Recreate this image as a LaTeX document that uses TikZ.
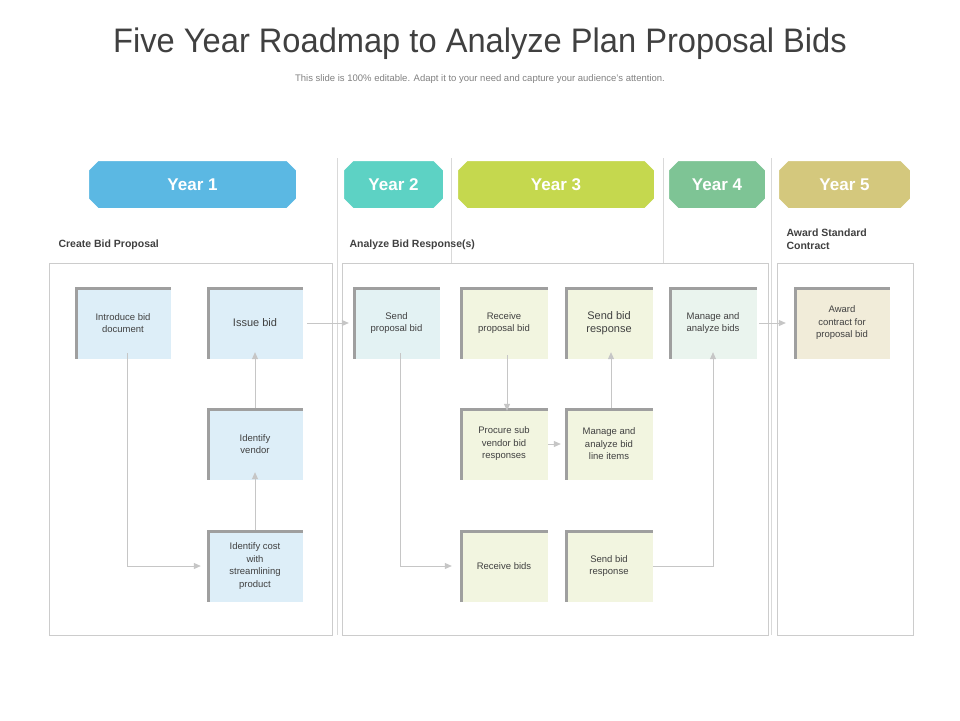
\documentclass[tikz,border=0pt]{standalone}
\usepackage{fontspec}
\setmainfont{Liberation Sans}
\usetikzlibrary{positioning,arrows.meta,shapes.misc}
\definecolor{yearone}{HTML}{5BB8E3}
\definecolor{yeartwo}{HTML}{5DD2C4}
\definecolor{yearthree}{HTML}{C5D84E}
\definecolor{yearfour}{HTML}{7EC495}
\definecolor{yearfive}{HTML}{D4C87D}
\definecolor{txt}{HTML}{404040}
\definecolor{fillblue}{HTML}{DDEEF8}
\definecolor{fillcyan}{HTML}{E3F2F3}
\definecolor{fillgreen}{HTML}{F2F5E0}
\definecolor{fillmint}{HTML}{EAF4EE}
\definecolor{fillsand}{HTML}{F1ECD9}
\tikzset{
  banner/.style={chamfered rectangle, chamfered rectangle xsep=5pt, chamfered rectangle ysep=5pt,
    draw=white, line width=2pt, text=white, font=\bfseries\fontsize{17}{17}\selectfont,
    minimum height=49pt, inner sep=0pt},
  panel/.style={draw=gray!40, line width=0.8pt, fill=white},
  task/.style={minimum width=92pt, minimum height=72pt, align=center,
    inner sep=0pt, text=txt, font=\fontsize{9.5}{12.5}\selectfont,
    path picture={\draw[gray!75, line width=5pt]
      (path picture bounding box.south west) -- (path picture bounding box.north west)
      -- (path picture bounding box.north east);}},
  flow/.style={gray!45, line width=0.8pt, -{Triangle[length=7pt,width=6pt]}},
  section/.style={anchor=south west, text=txt, font=\bfseries\fontsize{10.5}{13}\selectfont, align=left}
}
\begin{document}
\begin{tikzpicture}[x=1pt,y=-1pt]
\useasboundingbox (0,0) rectangle (960,720);
% title
\node[text=txt, font=\fontsize{34}{34}\selectfont, xscale=0.96] (title) at (480,44) {Five Year Roadmap to Analyze Plan Proposal Bids};
\node[text=gray, font=\fontsize{9.5}{11}\selectfont] (sub) at (480,79) {This slide is 100\% editable. Adapt it to your need and capture your audience’s attention.};
% column separators
\foreach \x in {337,451,663,771}
  \draw[gray!30, line width=0.6pt] (\x,158) -- (\x,635);
% panels
\draw[panel] (49,263) rectangle (332,635);
\draw[panel] (342,263) rectangle (768,635);
\draw[panel] (777,263) rectangle (913,635);
% banners
\node[banner, fill=yearone, minimum width=209pt] (y1) at (192.5,184.5) {Year 1};
\node[banner, fill=yeartwo, minimum width=101pt] (y2) at (393.5,184.5) {Year 2};
\node[banner, fill=yearthree, minimum width=198pt] (y3) at (556,184.5) {Year 3};
\node[banner, fill=yearfour, minimum width=98pt] (y4) at (717,184.5) {Year 4};
\node[banner, fill=yearfive, minimum width=133pt] (y5) at (844.5,184.5) {Year 5};
% section titles
\node[section] (s1) at (55,253) {Create Bid Proposal};
\node[section] (s2) at (346,253) {Analyze Bid Response(s)};
\node[section] (s3) at (783,253) {Award Standard\\Contract};
% tasks
\node[task, fill=fillblue, minimum width=96pt] (intro) at (123,323) {Introduce bid\\document};
\node[task, fill=fillblue, minimum width=96pt, font=\fontsize{11}{13}\selectfont] (issue) at (255,323) {Issue bid};
\node[task, fill=fillblue, minimum width=96pt] (vendor) at (255,444) {Identify\\vendor};
\node[task, fill=fillblue, minimum width=96pt] (cost) at (255,566) {Identify cost\\with\\streamlining\\product};
\node[task, fill=fillcyan, minimum width=87pt] (sendprop) at (396.5,323) {Send\\proposal bid};
\node[task, fill=fillgreen, minimum width=88pt] (recprop) at (504,323) {Receive\\proposal bid};
\node[task, fill=fillgreen, minimum width=88pt, font=\fontsize{11}{13.5}\selectfont] (sendresp) at (609,323) {Send bid\\response};
\node[task, fill=fillgreen, minimum width=88pt] (procure) at (504,444) {Procure sub\\vendor bid\\responses};
\node[task, fill=fillgreen, minimum width=88pt] (lineitems) at (609,444) {Manage and\\analyze bid\\line items};
\node[task, fill=fillgreen, minimum width=88pt] (recbids) at (504,566) {Receive bids};
\node[task, fill=fillgreen, minimum width=88pt] (sendresp2) at (609,566) {Send bid\\response};
\node[task, fill=fillmint, minimum width=88pt] (manage) at (713,323) {Manage and\\analyze bids};
\node[task, fill=fillsand, minimum width=96pt] (award) at (842,323) {Award\\contract for\\proposal bid};
% connectors
\draw[flow] ([xshift=4pt]issue.east) -- ([xshift=-4pt]sendprop.west);
\draw[flow] ([yshift=6pt,xshift=4pt]intro.south) |- ([xshift=-6pt]cost.west);
\draw[flow] (cost.north) -- ([yshift=8pt]vendor.south);
\draw[flow] (vendor.north) -- ([yshift=7pt]issue.south);
\draw[flow] ([yshift=6pt,xshift=4pt]sendprop.south) |- ([xshift=-8pt]recbids.west);
\draw[flow] ([yshift=4pt,xshift=3pt]recprop.south) -- ([yshift=-3pt,xshift=3pt]procure.north);
\draw[flow] (procure.east) -- ([xshift=-4pt]lineitems.west);
\draw[flow] ([xshift=2pt]lineitems.north) -- ([xshift=2pt,yshift=7pt]sendresp.south);
\draw[flow] (sendresp2.east) -| ([yshift=7pt]manage.south);
\draw[flow] ([xshift=2pt]manage.east) -- ([xshift=-8pt]award.west);
\end{tikzpicture}
\end{document}
